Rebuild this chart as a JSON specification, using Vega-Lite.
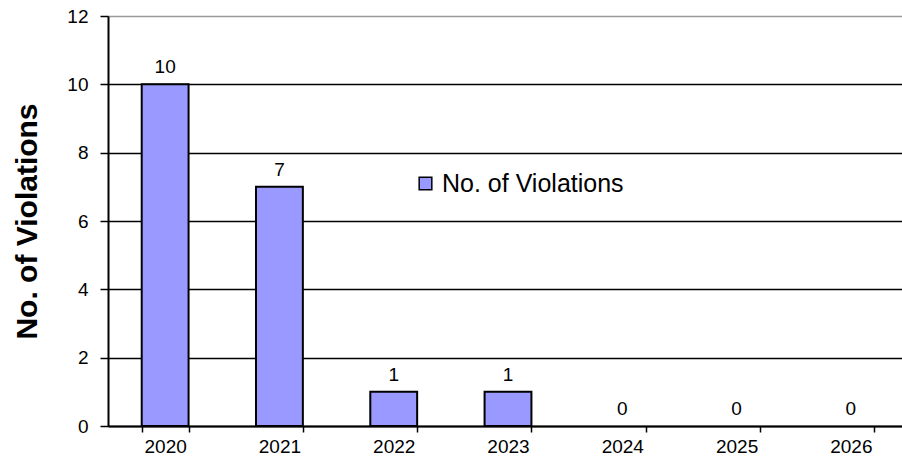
{
  "$schema": "https://vega.github.io/schema/vega-lite/v6.json",
  "autosize": {"type": "none"},
  "padding": {"left": 108, "top": 16, "right": 0, "bottom": 36},
  "width": 800,
  "height": 410,
  "background": "white",
  "data": {
    "values": [
      {"Year": "2020", "Violations": 10},
      {"Year": "2021", "Violations": 7},
      {"Year": "2022", "Violations": 1},
      {"Year": "2023", "Violations": 1},
      {"Year": "2024", "Violations": 0},
      {"Year": "2025", "Violations": 0},
      {"Year": "2026", "Violations": 0}
    ]
  },
  "encoding": {
    "x": {
      "field": "Year",
      "type": "nominal",
      "title": null,
      "scale": {"paddingInner": 0.59, "paddingOuter": 0.295},
      "axis": {
        "labelAngle": 0,
        "tickBand": "extent",
        "tickSize": 6,
        "labelPadding": 5,
        "labelFontSize": 19,
        "domainColor": "black",
        "domainWidth": 2,
        "tickColor": "black",
        "tickWidth": 1.5
      }
    },
    "y": {
      "field": "Violations",
      "type": "quantitative",
      "title": "No. of Violations",
      "scale": {"domain": [0, 12], "nice": false},
      "axis": {
        "values": [0, 2, 4, 6, 8, 10, 12],
        "grid": true,
        "gridColor": {"condition": {"test": "datum.value == 12", "value": "#9a9a9a"}, "value": "black"},
        "gridWidth": 1.5,
        "gridOpacity": 1,
        "tickSize": 8,
        "tickColor": "black",
        "tickWidth": 1.5,
        "domainColor": "black",
        "domainWidth": 2,
        "labelPadding": 12,
        "labelFontSize": 19,
        "titleFontSize": 30,
        "titleFontWeight": "bold",
        "titlePadding": 24
      }
    }
  },
  "layer": [
    {
      "transform": [{"filter": "datum.Violations > 0"}],
      "mark": {"type": "bar", "stroke": "black", "strokeWidth": 2},
      "encoding": {
        "color": {
          "datum": "No. of Violations",
          "scale": {"range": ["#9999FF"]},
          "legend": {
            "title": null,
            "orient": "none",
            "legendX": 305,
            "legendY": 155,
            "symbolType": "square",
            "symbolSize": 160,
            "symbolStrokeColor": "black",
            "symbolStrokeWidth": 1.5,
            "symbolOpacity": 1,
            "labelFontSize": 25,
            "labelLimit": 400,
            "labelColor": "black",
            "labelOffset": 4
          }
        }
      }
    },
    {
      "mark": {"type": "text", "baseline": "alphabetic", "dy": -11, "fontSize": 19, "color": "black"},
      "encoding": {"text": {"field": "Violations", "type": "quantitative"}}
    }
  ],
  "config": {
    "font": "Liberation Sans",
    "view": {"stroke": null},
    "axis": {"labelColor": "black", "titleColor": "black"}
  }
}
